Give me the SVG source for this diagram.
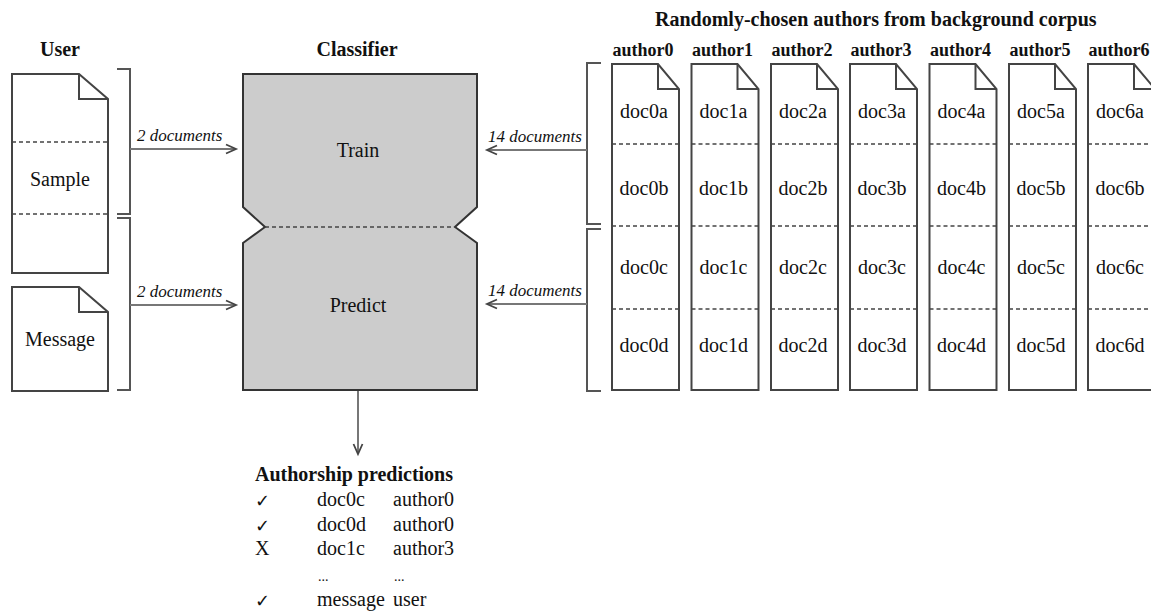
<svg xmlns="http://www.w3.org/2000/svg" width="1151" height="611" viewBox="0 0 1151 611">
<defs>
<style>
text{font-family:"Liberation Serif","Times New Roman",serif;fill:#111;}
.h{font-size:20px;font-weight:bold;}
.ha{font-size:18px;font-weight:bold;}
.t{font-size:20px;}
.i{font-size:17px;font-style:italic;}
.m{text-anchor:middle;}
.doc{fill:#fff;stroke:#444;stroke-width:2;stroke-linejoin:miter;}
.fold{fill:none;stroke:#444;stroke-width:2;}
.dash{fill:none;stroke:#444;stroke-width:1.3;stroke-dasharray:4,3;}
.br{fill:none;stroke:#555;stroke-width:2;}
.ar{fill:none;stroke:#777;stroke-width:2;}
.ck{font-family:"DejaVu Sans",sans-serif;font-size:18px;}
</style>
<marker id="arr" markerWidth="14" markerHeight="12" refX="11" refY="6" orient="auto" markerUnits="userSpaceOnUse">
<path d="M1,1.5 L11,6 L1,10.5" fill="none" stroke="#444" stroke-width="1.8"/>
</marker>
</defs>
<rect width="1151" height="611" fill="#fff"/>

<text class="h m" x="60" y="56">User</text>
<text class="h m" x="357" y="56">Classifier</text>
<text class="h" x="655" y="26">Randomly-chosen authors from background corpus</text>

<g id="sample">
<path class="doc" d="M12,74 H79 L108,99 V273 H12 Z"/>
<path class="fold" d="M79,74 V99 H108"/>
<line class="dash" x1="12" y1="142" x2="108" y2="142"/>
<line class="dash" x1="12" y1="214" x2="108" y2="214"/>
<text class="t m" x="60" y="186">Sample</text>
</g>
<g id="message">
<path class="doc" d="M12,287 H79 L108,312 V391 H12 Z"/>
<path class="fold" d="M79,287 V312 H108"/>
<text class="t m" x="60" y="346">Message</text>
</g>

<g id="classifier">
<path d="M243,74 H477 V207 L455,227 L477,243 V390 H243 V243 L265,227 L243,207 Z" fill="#cccccc" stroke="#333" stroke-width="2"/>
<line class="dash" x1="265" y1="227" x2="455" y2="227"/>
<text class="t m" x="358" y="157">Train</text>
<text class="t m" x="358" y="312">Predict</text>
</g>

<g id="authors">
<g id="author0"><text class="ha m" x="643" y="56">author0</text>
<path class="doc" d="M612,64 H658 L679,89 V390 H612 Z"/><path class="fold" d="M658,64 V89 H679"/>
<line class="dash" x1="612" y1="144" x2="679" y2="144"/><line class="dash" x1="612" y1="226" x2="679" y2="226"/><line class="dash" x1="612" y1="309" x2="679" y2="309"/>
<text class="t m" x="644" y="118">doc0a</text><text class="t m" x="644" y="195">doc0b</text><text class="t m" x="644" y="274">doc0c</text><text class="t m" x="644" y="352">doc0d</text></g>
<g id="author1" transform="translate(79.5,0)"><text class="ha m" x="643" y="56">author1</text>
<path class="doc" d="M612,64 H658 L679,89 V390 H612 Z"/><path class="fold" d="M658,64 V89 H679"/>
<line class="dash" x1="612" y1="144" x2="679" y2="144"/><line class="dash" x1="612" y1="226" x2="679" y2="226"/><line class="dash" x1="612" y1="309" x2="679" y2="309"/>
<text class="t m" x="644" y="118">doc1a</text><text class="t m" x="644" y="195">doc1b</text><text class="t m" x="644" y="274">doc1c</text><text class="t m" x="644" y="352">doc1d</text></g>
<g id="author2" transform="translate(159,0)"><text class="ha m" x="643" y="56">author2</text>
<path class="doc" d="M612,64 H658 L679,89 V390 H612 Z"/><path class="fold" d="M658,64 V89 H679"/>
<line class="dash" x1="612" y1="144" x2="679" y2="144"/><line class="dash" x1="612" y1="226" x2="679" y2="226"/><line class="dash" x1="612" y1="309" x2="679" y2="309"/>
<text class="t m" x="644" y="118">doc2a</text><text class="t m" x="644" y="195">doc2b</text><text class="t m" x="644" y="274">doc2c</text><text class="t m" x="644" y="352">doc2d</text></g>
<g id="author3" transform="translate(238,0)"><text class="ha m" x="643" y="56">author3</text>
<path class="doc" d="M612,64 H658 L679,89 V390 H612 Z"/><path class="fold" d="M658,64 V89 H679"/>
<line class="dash" x1="612" y1="144" x2="679" y2="144"/><line class="dash" x1="612" y1="226" x2="679" y2="226"/><line class="dash" x1="612" y1="309" x2="679" y2="309"/>
<text class="t m" x="644" y="118">doc3a</text><text class="t m" x="644" y="195">doc3b</text><text class="t m" x="644" y="274">doc3c</text><text class="t m" x="644" y="352">doc3d</text></g>
<g id="author4" transform="translate(317.5,0)"><text class="ha m" x="643" y="56">author4</text>
<path class="doc" d="M612,64 H658 L679,89 V390 H612 Z"/><path class="fold" d="M658,64 V89 H679"/>
<line class="dash" x1="612" y1="144" x2="679" y2="144"/><line class="dash" x1="612" y1="226" x2="679" y2="226"/><line class="dash" x1="612" y1="309" x2="679" y2="309"/>
<text class="t m" x="644" y="118">doc4a</text><text class="t m" x="644" y="195">doc4b</text><text class="t m" x="644" y="274">doc4c</text><text class="t m" x="644" y="352">doc4d</text></g>
<g id="author5" transform="translate(397,0)"><text class="ha m" x="643" y="56">author5</text>
<path class="doc" d="M612,64 H658 L679,89 V390 H612 Z"/><path class="fold" d="M658,64 V89 H679"/>
<line class="dash" x1="612" y1="144" x2="679" y2="144"/><line class="dash" x1="612" y1="226" x2="679" y2="226"/><line class="dash" x1="612" y1="309" x2="679" y2="309"/>
<text class="t m" x="644" y="118">doc5a</text><text class="t m" x="644" y="195">doc5b</text><text class="t m" x="644" y="274">doc5c</text><text class="t m" x="644" y="352">doc5d</text></g>
<g id="author6" transform="translate(476,0)"><text class="ha m" x="643" y="56">author6</text>
<path class="doc" d="M612,64 H658 L679,89 V390 H612 Z"/><path class="fold" d="M658,64 V89 H679"/>
<line class="dash" x1="612" y1="144" x2="679" y2="144"/><line class="dash" x1="612" y1="226" x2="679" y2="226"/><line class="dash" x1="612" y1="309" x2="679" y2="309"/>
<text class="t m" x="644" y="118">doc6a</text><text class="t m" x="644" y="195">doc6b</text><text class="t m" x="644" y="274">doc6c</text><text class="t m" x="644" y="352">doc6d</text></g>
</g>

<g id="connectors">
<path class="br" d="M117,69 H130 V214 H117"/>
<path class="br" d="M117,218 H130 V390 H117"/>
<path class="br" d="M601,63 H587 V224 H601"/>
<path class="br" d="M601,229 H587 V391 H601"/>
<line class="ar" x1="130" y1="149" x2="236" y2="149" marker-end="url(#arr)"/>
<line class="ar" x1="130" y1="305" x2="236" y2="305" marker-end="url(#arr)"/>
<line class="ar" x1="587" y1="150" x2="487" y2="150" marker-end="url(#arr)"/>
<line class="ar" x1="587" y1="304" x2="487" y2="304" marker-end="url(#arr)"/>
<line class="ar" x1="358" y1="391" x2="358" y2="454" marker-end="url(#arr)"/>
<text class="i" x="137" y="141">2 documents</text>
<text class="i" x="137" y="297">2 documents</text>
<text class="i" x="488" y="142">14 documents</text>
<text class="i" x="488" y="296">14 documents</text>
</g>

<g id="predictions">
<text class="h" x="255" y="481">Authorship predictions</text>
<text class="ck" x="255" y="507">✓</text><text class="t" x="317" y="506">doc0c</text><text class="t" x="393" y="506">author0</text>
<text class="ck" x="255" y="532">✓</text><text class="t" x="317" y="531">doc0d</text><text class="t" x="393" y="531">author0</text>
<text class="t" x="255" y="555">X</text><text class="t" x="317" y="555">doc1c</text><text class="t" x="393" y="555">author3</text>
<text class="t" x="318" y="581" style="font-size:14px">...</text><text class="t" x="394" y="581" style="font-size:14px">...</text>
<text class="ck" x="255" y="607">✓</text><text class="t" x="317" y="606">message</text><text class="t" x="393" y="606">user</text>
</g>
</svg>
